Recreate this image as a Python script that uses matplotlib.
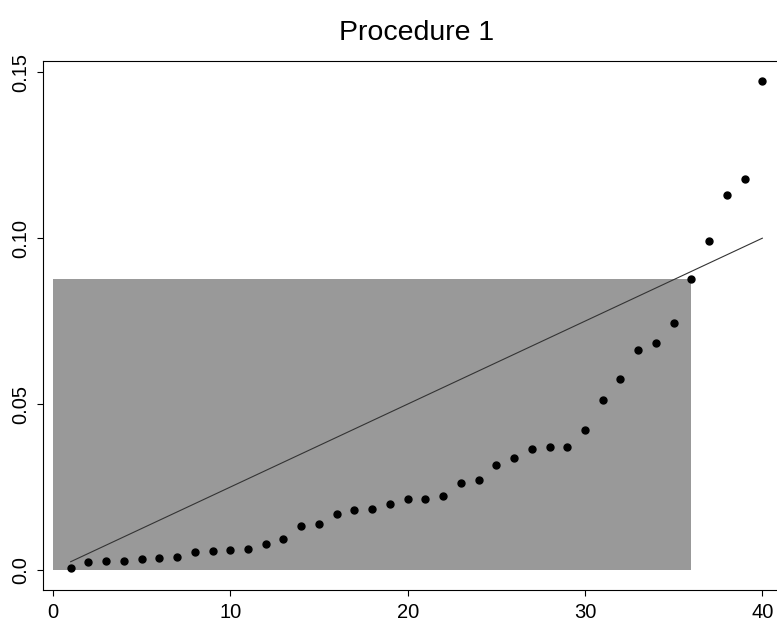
import numpy as np
import matplotlib
matplotlib.use('Agg')
from matplotlib import pyplot as plt
from matplotlib.patches import Rectangle

# sorted p-values, rank 1..40
rank = np.arange(1, 41)
pvals = [0.0007, 0.0023, 0.0026, 0.0028, 0.0032, 0.0035, 0.0038, 0.0053, 0.0056, 0.0059,
         0.0062, 0.0077, 0.0092, 0.0132, 0.0139, 0.0170, 0.0180, 0.0183, 0.0198, 0.0213,
         0.0213, 0.0222, 0.0261, 0.0270, 0.0318, 0.0339, 0.0364, 0.0370, 0.0370, 0.0421,
         0.0513, 0.0577, 0.0662, 0.0683, 0.0743, 0.0876, 0.0993, 0.1129, 0.1177, 0.1475]
q = 0.1
m = len(pvals)
xticks = [0, 10, 20, 30, 40]
yticks = [0.0, 0.05, 0.10, 0.15]
yticklabels = ['0.0', '0.05', '0.10', '0.15']

p = np.array(pvals)
crit = rank * q / m
# largest rank under the line
k = rank[p <= crit].max()

plt.rcParams['font.family'] = ['Liberation Sans', 'DejaVu Sans']
fig = plt.figure(figsize=(7.77, 6.22), dpi=100)
W, H = 777, 622
ax = fig.add_axes([43 / W, 1 - 589.6 / H, (790 - 43) / W, (589.6 - 61) / H])

ax.add_patch(Rectangle((0, 0), k, p[k - 1], facecolor='#999999', edgecolor='none', zorder=1))
ax.plot([rank[0], rank[-1]], [crit[0], crit[-1]], color='#333333', lw=0.8, zorder=2)
ax.plot(rank, p, 'o', color='black', markersize=5, zorder=3)

ax.set_xlim(1 - 0.04 * 39, 40 + 0.04 * 39)
ax.set_ylim(-0.04 * p.max(), p.max() * 1.04)
ax.set_xticks(xticks)
ax.set_xticklabels([str(t) for t in xticks])
ax.set_yticks(yticks)
ax.set_yticklabels(yticklabels, rotation=90, va='center')
ax.tick_params(axis='both', direction='out', length=4.5, width=0.8, labelsize=14.5)
ax.tick_params(axis='x', pad=5)
ax.tick_params(axis='y', pad=4.5)
for s in ax.spines.values():
    s.set_linewidth(0.8)

fig.text((43 + 790) / 2 / W, 1 - 40 / H, 'Procedure 1', ha='center', va='baseline', fontsize=20.5)

fig.savefig('out.png', dpi=100)
